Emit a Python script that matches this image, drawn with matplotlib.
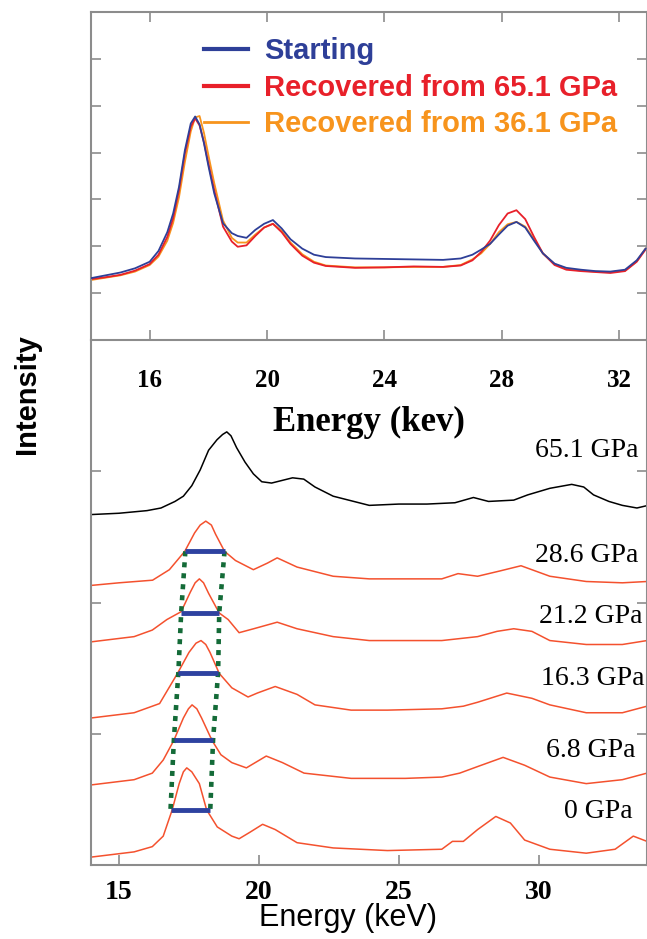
import matplotlib
matplotlib.use('Agg')
import matplotlib.pyplot as plt

# ---- top panel: recovered samples (energy in keV, intensity in arbitrary units)
E_TOP = [14.0, 14.5, 15.0, 15.5, 16.0, 16.3, 16.6, 16.8, 17.0, 17.2, 17.4, 17.55, 17.7, 17.85,
         18.0, 18.2, 18.5, 18.8, 19.0, 19.3, 19.6, 19.9, 20.2, 20.5, 20.8, 21.2, 21.6, 22.0,
         23.0, 24.0, 25.0, 26.0, 26.6, 27.0, 27.3, 27.6, 27.9, 28.2, 28.5, 28.8, 29.1, 29.4,
         29.8, 30.2, 30.7, 31.2, 31.7, 32.2, 32.6, 32.9]
STARTING = [1.32, 1.38, 1.44, 1.53, 1.67, 1.90, 2.30, 2.70, 3.27, 4.05, 4.62, 4.77, 4.60, 4.20,
            3.72, 3.13, 2.49, 2.28, 2.22, 2.18, 2.35, 2.48, 2.56, 2.38, 2.15, 1.95, 1.82, 1.77,
            1.74, 1.73, 1.72, 1.71, 1.74, 1.82, 1.93, 2.05, 2.25, 2.44, 2.52, 2.40, 2.12, 1.85,
            1.63, 1.54, 1.50, 1.47, 1.46, 1.50, 1.70, 1.95]
REC_651 = [1.30, 1.34, 1.39, 1.48, 1.62, 1.82, 2.20, 2.60, 3.20, 3.98, 4.55, 4.73, 4.58, 4.22,
           3.77, 3.20, 2.42, 2.10, 1.99, 2.02, 2.22, 2.40, 2.48, 2.30, 2.05, 1.80, 1.65, 1.58,
           1.54, 1.55, 1.57, 1.56, 1.59, 1.70, 1.88, 2.12, 2.45, 2.70, 2.77, 2.58, 2.20, 1.85,
           1.60, 1.50, 1.47, 1.45, 1.43, 1.47, 1.67, 1.93]
REC_361 = [1.28, 1.33, 1.38, 1.46, 1.60, 1.78, 2.12, 2.50, 3.05, 3.80, 4.45, 4.75, 4.78, 4.42,
           3.95, 3.35, 2.55, 2.18, 2.08, 2.08, 2.25, 2.40, 2.48, 2.33, 2.08, 1.83, 1.67, 1.59,
           1.55, 1.55, 1.56, 1.56, 1.60, 1.72, 1.85, 2.05, 2.30, 2.47, 2.52, 2.42, 2.15, 1.85,
           1.62, 1.52, 1.48, 1.46, 1.45, 1.48, 1.68, 1.95]
TOP_LABELS = ['Starting', 'Recovered from 65.1 GPa', 'Recovered from 36.1 GPa']

# ---- bottom panel: spectra under pressure (already stacked)
E_65 = [14.0, 15.0, 16.0, 16.5, 17.0, 17.3, 17.6, 17.9, 18.2, 18.5, 18.7, 18.85, 19.0, 19.2,
        19.5, 19.8, 20.1, 20.45, 21.2, 21.6, 22.0, 22.65, 23.94, 25.0, 26.0, 27.0, 27.66,
        28.2, 29.1, 29.6, 30.39, 31.17, 31.6, 31.95, 32.5, 32.98, 33.5, 33.9]
I_65 = [2.67, 2.68, 2.70, 2.72, 2.77, 2.81, 2.89, 3.01, 3.16, 3.24, 3.28, 3.30, 3.27, 3.18,
        3.07, 2.98, 2.92, 2.91, 2.95, 2.94, 2.88, 2.81, 2.74, 2.75, 2.75, 2.76, 2.80,
        2.77, 2.78, 2.82, 2.87, 2.90, 2.88, 2.82, 2.77, 2.74, 2.72, 2.74]
E_286 = [14.0, 15.0, 16.2, 16.8, 17.35, 17.7, 17.9, 18.1, 18.3, 18.45, 18.77, 19.16, 19.8, 20.3,
         20.65, 21.36, 22.65, 23.94, 25.5, 26.53, 27.11, 27.81, 28.6, 29.36, 30.39, 31.69,
         32.98, 33.86]
I_286 = [2.13, 2.15, 2.17, 2.25, 2.39, 2.53, 2.59, 2.62, 2.59, 2.52, 2.39, 2.32, 2.25, 2.30,
         2.34, 2.27, 2.20, 2.18, 2.18, 2.18, 2.22, 2.20, 2.24, 2.28, 2.20, 2.16, 2.15, 2.16]
E_212 = [14.0, 15.54, 16.19, 16.71, 17.22, 17.55, 17.72, 17.87, 18.02, 18.2, 18.58, 18.9, 19.29,
         19.81, 20.65, 21.36, 22.65, 23.94, 26.53, 27.81, 28.5, 29.1, 29.75, 30.39, 31.69,
         32.98, 33.86]
I_212 = [1.70, 1.74, 1.79, 1.87, 1.93, 2.08, 2.15, 2.18, 2.15, 2.07, 1.92, 1.87, 1.77,
         1.80, 1.85, 1.80, 1.74, 1.71, 1.71, 1.74, 1.78, 1.80, 1.78, 1.71, 1.68, 1.68, 1.71]
E_163 = [14.0, 15.54, 16.45, 17.09, 17.5, 17.75, 17.93, 18.1, 18.25, 18.58, 19.03, 19.61, 19.94,
         20.58, 21.36, 22.0, 23.29, 24.59, 26.53, 27.3, 27.81, 28.85, 29.75, 30.39, 31.69,
         32.98, 33.86]
I_163 = [1.12, 1.16, 1.23, 1.46, 1.62, 1.69, 1.71, 1.68, 1.62, 1.46, 1.35, 1.28, 1.31,
         1.36, 1.30, 1.22, 1.18, 1.18, 1.19, 1.21, 1.24, 1.31, 1.27, 1.22, 1.16, 1.16, 1.21]
E_68 = [14.0, 15.54, 16.19, 16.58, 16.96, 17.3, 17.48, 17.61, 17.78, 17.95, 18.32, 18.64, 19.03,
        19.55, 20.26, 20.84, 21.61, 23.29, 25.23, 26.53, 27.17, 27.81, 28.72, 29.49, 30.39,
        31.69, 32.98, 33.86]
I_68 = [0.61, 0.65, 0.70, 0.80, 0.95, 1.12, 1.19, 1.22, 1.19, 1.12, 0.95, 0.84, 0.78,
        0.74, 0.83, 0.78, 0.70, 0.66, 0.66, 0.67, 0.70, 0.75, 0.82, 0.76, 0.67,
        0.62, 0.65, 0.70]
E_0 = [14.0, 15.54, 16.19, 16.58, 16.9, 17.15, 17.3, 17.42, 17.6, 17.87, 18.13, 18.51, 19.03,
       19.29, 19.68, 20.13, 20.58, 21.36, 22.65, 24.59, 26.53, 26.91, 27.3, 27.81, 28.46,
       28.98, 29.49, 30.39, 31.69, 32.72, 33.37, 33.86]
I_0 = [0.06, 0.10, 0.14, 0.22, 0.42, 0.62, 0.71, 0.74, 0.71, 0.62, 0.42, 0.29, 0.22,
       0.20, 0.25, 0.31, 0.27, 0.17, 0.13, 0.11, 0.12, 0.18, 0.18, 0.27, 0.37,
       0.32, 0.19, 0.12, 0.09, 0.12, 0.22, 0.18]
PRESSURES = ['65.1 GPa', '28.6 GPa', '21.2 GPa', '16.3 GPa', '6.8 GPa', '0 GPa']
LABEL_E = [31.71, 31.71, 31.86, 31.93, 31.86, 32.11]
LABEL_I = [3.16, 2.36, 1.89, 1.42, 0.876, 0.404]

# FWHM of the main peak (28.6, 21.2, 16.3, 6.8, 0 GPa)
FWHM_LEFT = [17.37, 17.22, 17.12, 16.96, 16.84]
FWHM_RIGHT = [18.77, 18.58, 18.54, 18.36, 18.26]
FWHM_LEVEL = [2.39, 1.92, 1.465, 0.952, 0.419]

SERIF = 'Liberation Serif'
SANS = 'Liberation Sans'
SPINE = '#8c8c8c'
RED_SPEC = '#f4512e'

fig = plt.figure(figsize=(6.47, 9.39), dpi=100)
W, H = 647.0, 939.0
ax1 = fig.add_axes([91 / W, 1 - 340 / H, 556 / W, 328 / H])
ax2 = fig.add_axes([91 / W, 1 - 865 / H, 556 / W, 525 / H])
ax2.patch.set_alpha(0)

# top panel
ax1.plot(E_TOP, STARTING, color='#2e3f98', lw=1.3, label=TOP_LABELS[0], zorder=3)
ax1.plot(E_TOP, REC_361, color='#f7941d', lw=1.3, label=TOP_LABELS[2], zorder=2)
ax1.plot(E_TOP, REC_651, color='#e8202a', lw=1.3, label=TOP_LABELS[1], zorder=2)
ax1.set_xlim(14, 32.95)
ax1.set_ylim(0, 7)
ax1.set_xticks([16, 20, 24, 28, 32])
ax1.set_yticks(range(0, 8))
ax1.tick_params(direction='in', length=7, width=1.2, color=SPINE, top=True, right=True,
                labelleft=False, pad=21)
for lab in ax1.get_xticklabels():
    lab.set_fontfamily(SERIF)
    lab.set_fontweight('bold')
    lab.set_fontsize(18)
ax1.set_xlabel('Energy (kev)', fontfamily=SERIF, fontweight='bold', fontsize=25)
ax1.xaxis.set_label_coords(0.5, -0.2)

handles, labels = ax1.get_legend_handles_labels()
order = [0, 2, 1]
leg = ax1.legend([handles[i] for i in order], [labels[i] for i in order],
                 loc='upper left', bbox_to_anchor=(204 / W, 1 - 37 / H),
                 bbox_transform=fig.transFigure, frameon=False, borderpad=0,
                 borderaxespad=0, handlelength=1.5, handletextpad=0.55, labelspacing=0.3,
                 labelcolor='linecolor', prop={'family': SANS, 'weight': 'bold', 'size': 21})
for line, lw in zip(leg.get_lines(), [3.0, 3.0, 2.0]):
    line.set_linewidth(lw)

# bottom panel
ax2.plot(E_65, I_65, color='black', lw=1.1)
for e, i in [(E_286, I_286), (E_212, I_212), (E_163, I_163), (E_68, I_68), (E_0, I_0)]:
    ax2.plot(e, i, color=RED_SPEC, lw=1.1)
ax2.plot(FWHM_LEFT, FWHM_LEVEL, color='#146b38', lw=3.3, linestyle=(0, (1.1, 1.3)),
         dash_capstyle='butt', zorder=2)
ax2.plot(FWHM_RIGHT, FWHM_LEVEL, color='#146b38', lw=3.3, linestyle=(0, (1.1, 1.3)),
         dash_capstyle='butt', zorder=2)
ax2.hlines(FWHM_LEVEL, FWHM_LEFT, FWHM_RIGHT, color='#2e42a0', lw=3.5, zorder=3)
for txt, x, y in zip(PRESSURES, LABEL_E, LABEL_I):
    ax2.text(x, y, txt, ha='center', va='center', fontfamily=SERIF, fontsize=20)
ax2.set_xlim(14, 33.86)
ax2.set_ylim(0, 4)
ax2.set_xticks([15, 20, 25, 30])
ax2.set_yticks(range(0, 4))
ax2.tick_params(direction='in', length=7, width=1.2, color=SPINE, right=True,
                labelleft=False, pad=11)
for lab in ax2.get_xticklabels():
    lab.set_fontfamily(SERIF)
    lab.set_fontweight('bold')
    lab.set_fontsize(20)
ax2.set_xlabel('Energy (keV)', fontfamily=SANS, fontsize=22)
ax2.xaxis.set_label_coords(0.462, -0.072)
ax2.spines['top'].set_visible(False)

for ax in (ax1, ax2):
    for s in ax.spines.values():
        s.set_color(SPINE)
        s.set_linewidth(1.5)

fig.text(27 / W, 1 - 394 / H, 'Intensity', rotation=90, ha='center', va='center',
         fontfamily=SANS, fontweight='bold', fontsize=21)

fig.savefig('out.png', dpi=100)
